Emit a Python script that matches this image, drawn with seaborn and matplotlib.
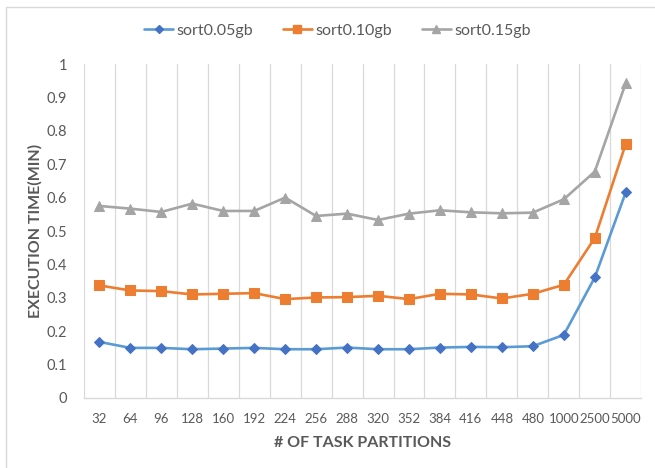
import matplotlib
matplotlib.use("Agg")
import matplotlib.pyplot as plt
from matplotlib.patches import Rectangle
from matplotlib.lines import Line2D
import seaborn as sns
import pandas as pd

partitions = ["32", "64", "96", "128", "160", "192", "224", "256", "288",
              "320", "352", "384", "416", "448", "480", "1000", "2500", "5000"]
sort_005 = [0.168, 0.150, 0.150, 0.146, 0.148, 0.150, 0.146, 0.146, 0.151,
            0.146, 0.146, 0.151, 0.153, 0.152, 0.155, 0.189, 0.361, 0.616]
sort_010 = [0.337, 0.322, 0.320, 0.310, 0.312, 0.314, 0.296, 0.301, 0.302,
            0.306, 0.296, 0.312, 0.310, 0.298, 0.312, 0.339, 0.479, 0.761]
sort_015 = [0.575, 0.567, 0.557, 0.582, 0.560, 0.560, 0.600, 0.545, 0.552,
            0.533, 0.552, 0.562, 0.556, 0.553, 0.555, 0.595, 0.678, 0.943]
series_names = ["sort0.05gb", "sort0.10gb", "sort0.15gb"]
y_ticks = [0, 0.1, 0.2, 0.3, 0.4, 0.5, 0.6, 0.7, 0.8, 0.9, 1]
y_tick_labels = ["0", "0.1", "0.2", "0.3", "0.4", "0.5", "0.6", "0.7", "0.8", "0.9", "1"]

sns.set_theme(style="white")
plt.rcParams["font.family"] = ["Lato", "DejaVu Sans"]

text_color = "#595959"
styles = [
    dict(line="#5B9BD5", face="#4472C4", marker="D", size=5.0),
    dict(line="#ED7D31", face="#ED7D31", marker="s", size=7.0),
    dict(line="#A5A5A5", face="#A5A5A5", marker="^", size=7.0),
]

df = pd.DataFrame({"partitions": partitions,
                   series_names[0]: sort_005,
                   series_names[1]: sort_010,
                   series_names[2]: sort_015})
long_df = df.melt(id_vars="partitions", var_name="series", value_name="time")

fig = plt.figure(figsize=(6.55, 4.68), dpi=100)
ax = fig.add_axes([0.128, 0.1496, 0.851, 0.7136])

handles = []
for name, st in zip(series_names, styles):
    sub = long_df[long_df["series"] == name]
    sns.lineplot(data=sub, x="partitions", y="time", ax=ax, sort=False,
                 color=st["line"], linewidth=1.9, marker=st["marker"],
                 markersize=st["size"], markerfacecolor=st["face"],
                 markeredgecolor=st["face"], legend=False)
    handles.append(Line2D([0], [0], color=st["line"], linewidth=1.9,
                          marker=st["marker"], markersize=st["size"] * 0.8,
                          markerfacecolor=st["face"], markeredgecolor=st["face"]))

n = len(partitions)
ax.set_xlim(-0.5, n - 0.5)
ax.set_ylim(0, 1)
ax.set_yticks(y_ticks)
ax.set_yticklabels(y_tick_labels)
ax.set_xticks(range(n))
ax.set_xticklabels(partitions)

# vertical gridlines at category boundaries
for b in range(n + 1):
    ax.axvline(b - 0.5, color="#D9D9D9", linewidth=0.9, zorder=0)

for side in ["top", "right", "left"]:
    ax.spines[side].set_visible(False)
ax.spines["bottom"].set_color("#D9D9D9")
ax.spines["bottom"].set_linewidth(1.0)

ax.tick_params(axis="both", length=0, colors=text_color)
ax.tick_params(axis="x", labelsize=9.5, pad=11)
ax.tick_params(axis="y", labelsize=10.5, pad=12)

ax.set_xlabel("# OF TASK PARTITIONS", fontsize=11.5, fontweight="bold",
              color=text_color, labelpad=8)
ax.set_ylabel("EXECUTION TIME(MIN)", fontsize=11.5, fontweight="bold",
              color=text_color, labelpad=3)

fig.legend(handles, series_names, loc="center", bbox_to_anchor=(0.515, 0.935),
           ncol=3, frameon=False, fontsize=11.5, handlelength=1.8,
           columnspacing=1.9, handletextpad=0.2, labelcolor=text_color)

# light chart border
fig.patches.append(Rectangle((6 / 655, -0.02), 1.0, 1 - 7 / 468 + 0.02,
                             transform=fig.transFigure, fill=False,
                             edgecolor="#D9D9D9", linewidth=1.0))

fig.savefig("out.png", dpi=100)
